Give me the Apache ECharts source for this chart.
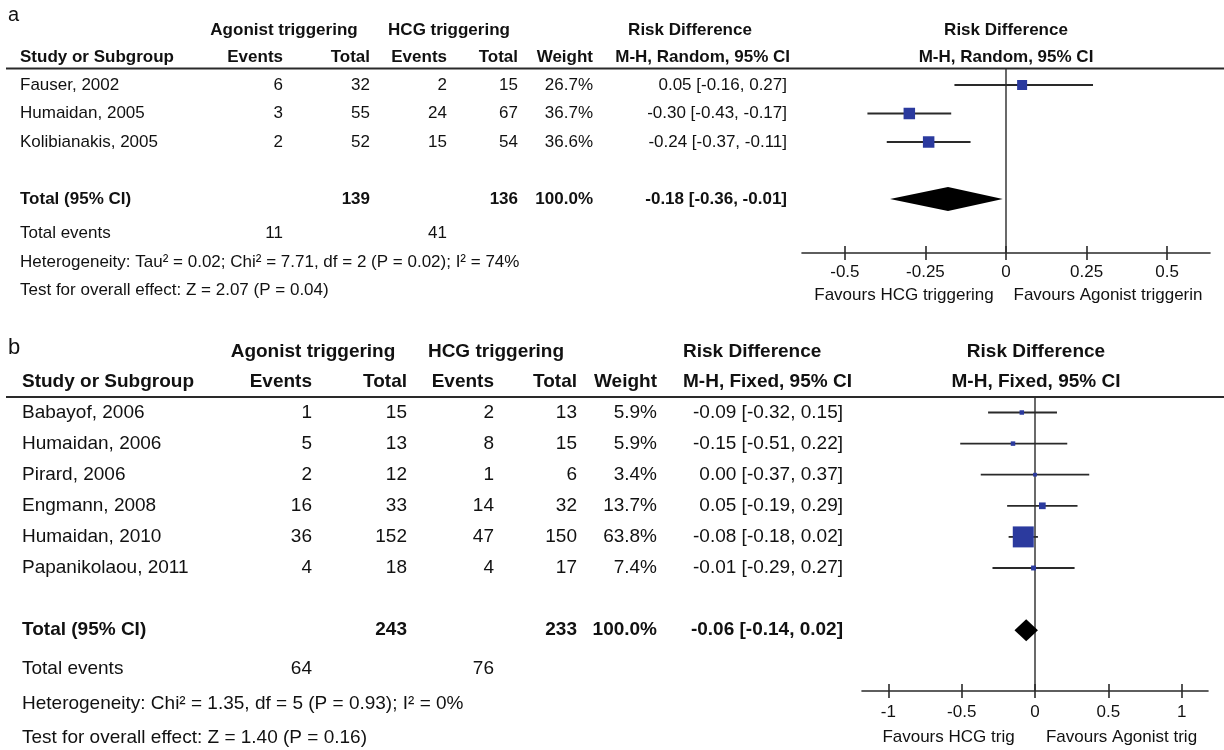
<!DOCTYPE html>
<html>
<head>
<meta charset="utf-8">
<script src="https://cdn.jsdelivr.net/npm/echarts@6/dist/echarts.min.js"></script>
<style>
html,body{margin:0;padding:0;background:#fff;}
#chart{width:1224px;height:750px;}
</style>
</head>
<body>
<div id="chart"></div>
<script>
// ---------- Panel a data ----------
const studiesA = ['Fauser, 2002', 'Humaidan, 2005', 'Kolibianakis, 2005'];
const agoEventsA = [6, 3, 2];
const agoTotalA = [32, 55, 52];
const hcgEventsA = [2, 24, 15];
const hcgTotalA = [15, 67, 54];
const weightA = [26.7, 36.7, 36.6];
const rdA = [0.05, -0.30, -0.24];
const loA = [-0.16, -0.43, -0.37];
const hiA = [0.27, -0.17, -0.11];
const totalNA = [139, 136];            // agonist total, hcg total
const totalEventsA = [11, 41];         // agonist events, hcg events
const pooledA = [-0.18, -0.36, -0.01]; // rd, lo, hi
const totalWeightA = 100.0;
const ticksA = [-0.5, -0.25, 0, 0.25, 0.5];
const hetA = 'Heterogeneity: Tau\u00B2 = 0.02; Chi\u00B2 = 7.71, df = 2 (P = 0.02); I\u00B2 = 74%';
const testA = 'Test for overall effect: Z = 2.07 (P = 0.04)';

// ---------- Panel b data ----------
const studiesB = ['Babayof, 2006', 'Humaidan, 2006', 'Pirard, 2006', 'Engmann, 2008', 'Humaidan, 2010', 'Papanikolaou, 2011'];
const agoEventsB = [1, 5, 2, 16, 36, 4];
const agoTotalB = [15, 13, 12, 33, 152, 18];
const hcgEventsB = [2, 8, 1, 14, 47, 4];
const hcgTotalB = [13, 15, 6, 32, 150, 17];
const weightB = [5.9, 5.9, 3.4, 13.7, 63.8, 7.4];
const rdB = [-0.09, -0.15, 0.00, 0.05, -0.08, -0.01];
const loB = [-0.32, -0.51, -0.37, -0.19, -0.18, -0.29];
const hiB = [0.15, 0.22, 0.37, 0.29, 0.02, 0.27];
const totalNB = [243, 233];
const totalEventsB = [64, 76];
const pooledB = [-0.06, -0.14, 0.02];
const totalWeightB = 100.0;
const ticksB = [-1, -0.5, 0, 0.5, 1];
const hetB = 'Heterogeneity: Chi\u00B2 = 1.35, df = 5 (P = 0.93); I\u00B2 = 0%';
const testB = 'Test for overall effect: Z = 1.40 (P = 0.16)';

// ---------- layout ----------
const FONT = '"Liberation Sans", Arial, Helvetica, sans-serif';
const TXT = '#111';
const LINE = '#2a2a2a';
const BLUE = '#2b3a9e';

const A = {
  fs: 17, label: 'a', labelY: 15, h1: 30, h2: 57, line: 68.5,
  r0: 85, step: 28.5, extraY: [233, 262, 290],
  axisY: 253, favY: 295, plotL: 802, plotR: 1210, xMin: -0.633, xMax: 0.633,
  cols: {study: 20, ae: 283, at: 370, he: 447, ht: 518, w: 593, rd: 787},
  grp1: 284, grp2: 449,
  rdHead1: [690, 'center'], rdHead2: [790, 'right'], plotHead: 1006,
  method: 'M-H, Random, 95% CI', left: 'Favours HCG triggering', right: 'Favours Agonist triggerin',
  diamondH: 12, size: w => 6 + 0.15 * w
};
const B = {
  fs: 19, label: 'b', labelY: 348, h1: 352, h2: 382, line: 397,
  r0: 412.5, step: 31.1, extraY: [669, 704, 738],
  axisY: 691, favY: 737, plotL: 862, plotR: 1208, xMin: -1.18, xMax: 1.18,
  cols: {study: 22, ae: 312, at: 407, he: 494, ht: 577, w: 657, rd: 843},
  grp1: 313, grp2: 496,
  rdHead1: [683, 'left'], rdHead2: [683, 'left'], plotHead: 1036,
  method: 'M-H, Fixed, 95% CI', left: 'Favours HCG trig', right: 'Favours Agonist trig',
  diamondH: 11, size: w => 2.8 + 0.285 * w
};

function rowY(P, k) { return P.r0 + P.step * k; }
function yMin(P) { return -(P.r0 - P.line) / P.step; }
function yMax(P) { return (P.axisY - P.r0) / P.step; }
function xPix(P, v) { return P.plotL + (v - P.xMin) / (P.xMax - P.xMin) * (P.plotR - P.plotL); }

function t(x, y, s, align, size, bold) {
  return {
    type: 'text', x: x, y: y, silent: true,
    style: {
      text: String(s), fill: TXT,
      font: (bold ? 'bold ' : '') + size + 'px ' + FONT,
      textAlign: align, align: align,
      textVerticalAlign: 'middle', verticalAlign: 'middle'
    }
  };
}
function fmtCI(r, l, h) { return r.toFixed(2) + ' [' + l.toFixed(2) + ', ' + h.toFixed(2) + ']'; }

function tableGraphics(P, studies, ae, at, he, ht, w, rd, lo, hi, totN, totEv, pooled, totW, het, test) {
  const g = [];
  const c = P.cols, fs = P.fs;
  g.push(t(8, P.labelY, P.label, 'left', fs + 3, false));
  g.push(t(P.grp1, P.h1, 'Agonist triggering', 'center', fs, true));
  g.push(t(P.grp2, P.h1, 'HCG triggering', 'center', fs, true));
  g.push(t(P.rdHead1[0], P.h1, 'Risk Difference', P.rdHead1[1], fs, true));
  g.push(t(P.plotHead, P.h1, 'Risk Difference', 'center', fs, true));
  g.push(t(c.study, P.h2, 'Study or Subgroup', 'left', fs, true));
  g.push(t(c.ae, P.h2, 'Events', 'right', fs, true));
  g.push(t(c.at, P.h2, 'Total', 'right', fs, true));
  g.push(t(c.he, P.h2, 'Events', 'right', fs, true));
  g.push(t(c.ht, P.h2, 'Total', 'right', fs, true));
  g.push(t(c.w, P.h2, 'Weight', 'right', fs, true));
  g.push(t(P.rdHead2[0], P.h2, P.method, P.rdHead2[1], fs, true));
  g.push(t(P.plotHead, P.h2, P.method, 'center', fs, true));
  g.push({type: 'line', silent: true, shape: {x1: 6, y1: P.line, x2: 1224, y2: P.line},
          style: {stroke: LINE, lineWidth: 2}});
  studies.forEach((s, i) => {
    const y = rowY(P, i);
    g.push(t(c.study, y, s, 'left', fs, false));
    g.push(t(c.ae, y, ae[i], 'right', fs, false));
    g.push(t(c.at, y, at[i], 'right', fs, false));
    g.push(t(c.he, y, he[i], 'right', fs, false));
    g.push(t(c.ht, y, ht[i], 'right', fs, false));
    g.push(t(c.w, y, w[i].toFixed(1) + '%', 'right', fs, false));
    g.push(t(c.rd, y, fmtCI(rd[i], lo[i], hi[i]), 'right', fs, false));
  });
  const ty = rowY(P, studies.length + 1);
  g.push(t(c.study, ty, 'Total (95% CI)', 'left', fs, true));
  g.push(t(c.at, ty, totN[0], 'right', fs, true));
  g.push(t(c.ht, ty, totN[1], 'right', fs, true));
  g.push(t(c.w, ty, totW.toFixed(1) + '%', 'right', fs, true));
  g.push(t(c.rd, ty, fmtCI(pooled[0], pooled[1], pooled[2]), 'right', fs, true));
  g.push(t(c.study, P.extraY[0], 'Total events', 'left', fs, false));
  g.push(t(c.ae, P.extraY[0], totEv[0], 'right', fs, false));
  g.push(t(c.he, P.extraY[0], totEv[1], 'right', fs, false));
  g.push(t(c.study, P.extraY[1], het, 'left', fs, false));
  g.push(t(c.study, P.extraY[2], test, 'left', fs, false));
  const x0 = xPix(P, 0);
  g.push(t((P.plotL + x0) / 2, P.favY, P.left, 'center', 17, false));
  g.push(t((x0 + P.plotR) / 2, P.favY, P.right, 'center', 17, false));
  return g;
}

const graphics = [].concat(
  tableGraphics(A, studiesA, agoEventsA, agoTotalA, hcgEventsA, hcgTotalA, weightA, rdA, loA, hiA,
                totalNA, totalEventsA, pooledA, totalWeightA, hetA, testA),
  tableGraphics(B, studiesB, agoEventsB, agoTotalB, hcgEventsB, hcgTotalB, weightB, rdB, loB, hiB,
                totalNB, totalEventsB, pooledB, totalWeightB, hetB, testB)
);

function grid(P) {
  return {left: P.plotL, right: 1224 - P.plotR, top: P.line, bottom: 750 - P.axisY, containLabel: false};
}
function xAxes(P, gi, ticks, labelMargin) {
  return [
    {type: 'value', gridIndex: gi, min: P.xMin, max: P.xMax, position: 'bottom',
     splitLine: {show: false},
     axisLine: {show: true, onZero: false, lineStyle: {color: LINE, width: 1.6}},
     axisTick: {show: true, length: 7, inside: false, customValues: ticks, lineStyle: {color: LINE, width: 1.6}},
     axisLabel: {show: true, customValues: ticks, margin: labelMargin, color: TXT, fontSize: 17, fontFamily: FONT,
                 formatter: v => String(v)}},
    {type: 'value', gridIndex: gi, min: P.xMin, max: P.xMax, position: 'bottom',
     splitLine: {show: false},
     axisLine: {show: false, onZero: false},
     axisTick: {show: true, length: 7, inside: true, customValues: ticks, lineStyle: {color: LINE, width: 1.6}},
     axisLabel: {show: false}}
  ];
}
function yAxis(P, gi) {
  return {type: 'value', gridIndex: gi, inverse: true, min: yMin(P), max: yMax(P), show: false,
          splitLine: {show: false}};
}

function studySeries(P, xi, yi, rd, lo, hi, w) {
  return {
    type: 'custom', xAxisIndex: xi, yAxisIndex: yi, z: 5, silent: true,
    data: rd.map((v, i) => [v, i, lo[i], hi[i], w[i]]),
    encode: {x: [0, 2, 3], y: 1},
    renderItem: function (params, api) {
      const c = api.coord([api.value(0), api.value(1)]);
      const l = api.coord([api.value(2), api.value(1)]);
      const h = api.coord([api.value(3), api.value(1)]);
      const s = P.size(api.value(4));
      return {type: 'group', children: [
        {type: 'line', shape: {x1: l[0], y1: l[1], x2: h[0], y2: h[1]},
         style: {stroke: LINE, lineWidth: 1.8}},
        {type: 'rect', shape: {x: c[0] - s / 2, y: c[1] - s / 2, width: s, height: s},
         style: {fill: BLUE}}
      ]};
    }
  };
}
function diamondSeries(P, xi, yi, pooled, row) {
  return {
    type: 'custom', xAxisIndex: xi, yAxisIndex: yi, z: 5, silent: true,
    data: [[pooled[0], row, pooled[1], pooled[2]]],
    encode: {x: [0, 2, 3], y: 1},
    renderItem: function (params, api) {
      const c = api.coord([api.value(0), api.value(1)]);
      const l = api.coord([api.value(2), api.value(1)]);
      const h = api.coord([api.value(3), api.value(1)]);
      const d = P.diamondH;
      return {type: 'polygon', shape: {points: [[l[0], l[1]], [c[0], c[1] - d], [h[0], h[1]], [c[0], c[1] + d]]},
              style: {fill: '#000'}};
    }
  };
}
function zeroLine(P, xi, yi) {
  return {type: 'line', xAxisIndex: xi, yAxisIndex: yi, z: 1, silent: true, symbol: 'none',
          data: [[0, yMin(P)], [0, yMax(P)]],
          lineStyle: {color: LINE, width: 1.4}};
}

const chart = echarts.init(document.getElementById('chart'), null, {renderer: 'canvas'});
chart.setOption({
  animation: false,
  backgroundColor: '#fff',
  textStyle: {fontFamily: FONT},
  grid: [grid(A), grid(B)],
  xAxis: [].concat(xAxes(A, 0, ticksA, 11), xAxes(B, 1, ticksB, 13)),
  yAxis: [yAxis(A, 0), yAxis(B, 1)],
  series: [
    zeroLine(A, 0, 0),
    studySeries(A, 0, 0, rdA, loA, hiA, weightA),
    diamondSeries(A, 0, 0, pooledA, studiesA.length + 1),
    zeroLine(B, 2, 1),
    studySeries(B, 2, 1, rdB, loB, hiB, weightB),
    diamondSeries(B, 2, 1, pooledB, studiesB.length + 1)
  ],
  graphic: graphics
});
</script>
</body>
</html>
